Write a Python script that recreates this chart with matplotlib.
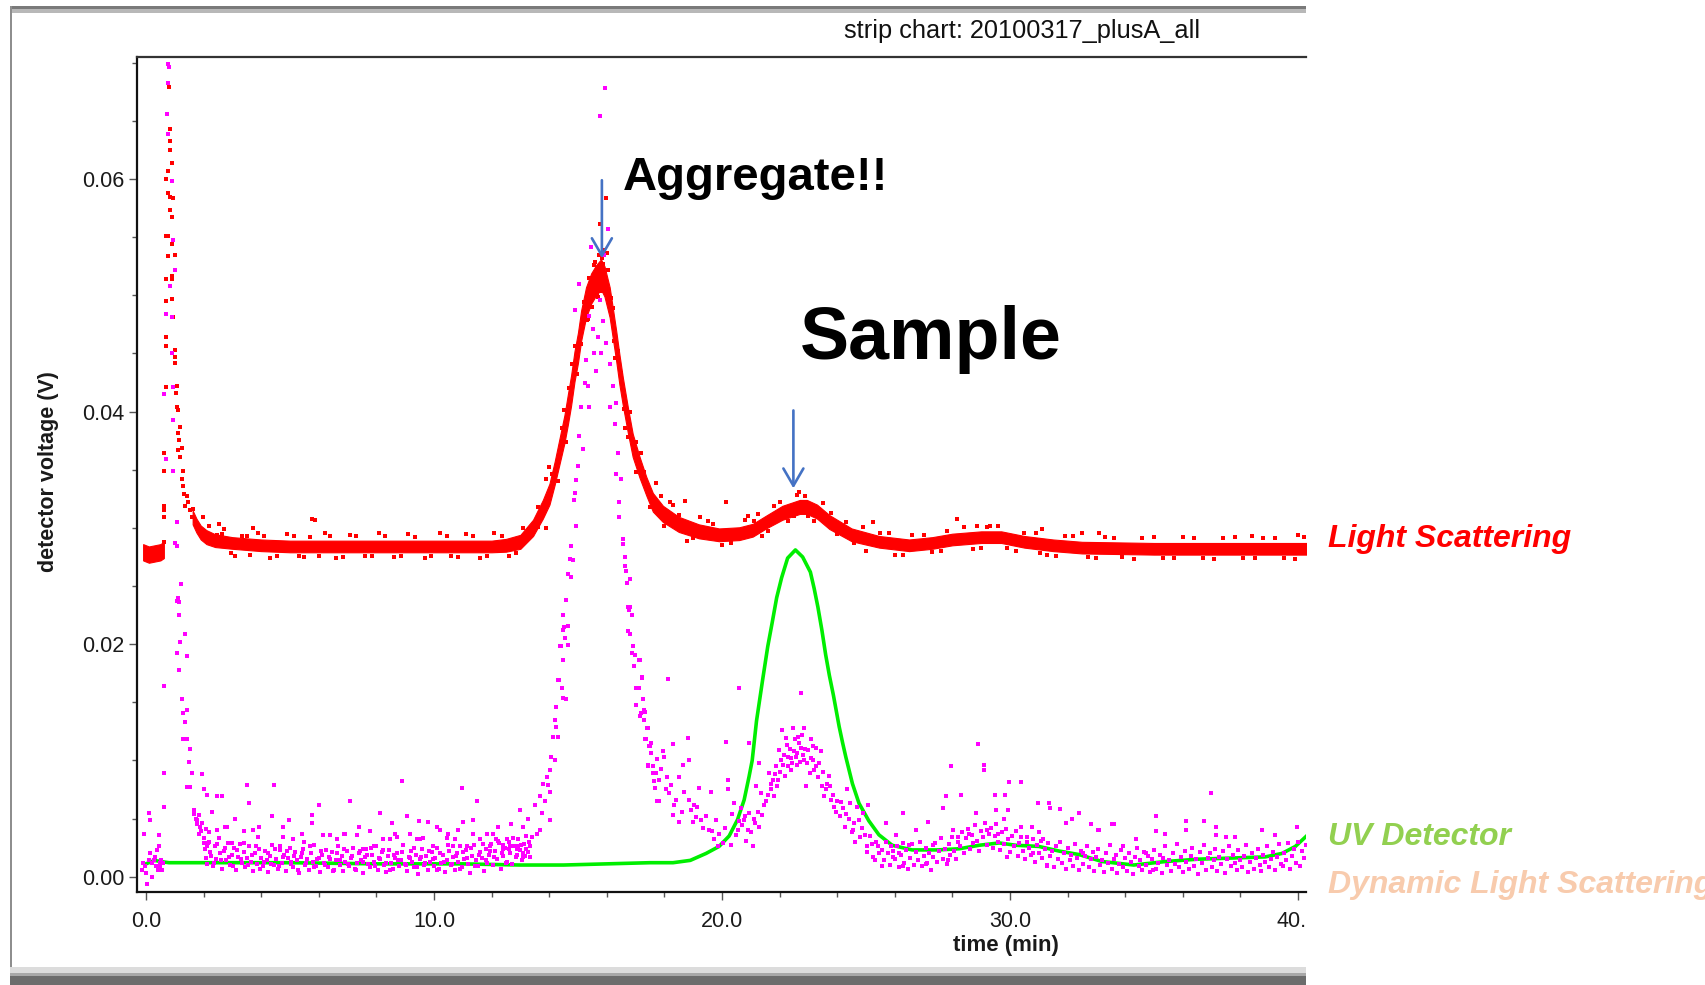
import numpy as np
import matplotlib
matplotlib.use("Agg")
import matplotlib.pyplot as plt
from matplotlib.patches import Rectangle
from matplotlib.ticker import MultipleLocator, FormatStrFormatter

plt.rcParams['font.family'] = ['Liberation Sans', 'DejaVu Sans']

# ---------------------------------------------------------------------------
# Strip chart data (time in minutes, detector voltage in mV)
# ---------------------------------------------------------------------------

# Light scattering: dense trace stored as centre line and half spread
ls_lead_band = [(-0.10, 27.9, 0.7), (0.10, 27.7, 0.7), (0.30, 27.8, 0.7),
                (0.50, 27.9, 0.7), (0.62, 28.1, 0.7)]

ls_main_band = [
    (1.62, 30.9, 0.6), (1.75, 30.2, 0.6), (1.90, 29.6, 0.6), (2.10, 29.2, 0.6),
    (2.40, 28.9, 0.55), (3.00, 28.7, 0.5), (4.00, 28.5, 0.5), (5.00, 28.4, 0.5),
    (6.00, 28.4, 0.5), (7.00, 28.4, 0.5), (8.00, 28.4, 0.5), (9.00, 28.4, 0.5),
    (10.0, 28.4, 0.5), (11.0, 28.4, 0.5), (12.0, 28.4, 0.5), (12.5, 28.5, 0.55),
    (13.0, 28.8, 0.6), (13.44, 30.0, 0.7), (13.78, 31.6, 0.8), (14.01, 32.9, 0.9),
    (14.19, 34.7, 1.0), (14.36, 36.6, 1.1), (14.53, 38.5, 1.2), (14.65, 40.2, 1.3),
    (14.76, 41.8, 1.3), (14.88, 43.9, 1.3), (15.00, 45.5, 1.3), (15.11, 47.4, 1.3),
    (15.28, 49.4, 1.3), (15.46, 50.6, 1.3), (15.63, 51.3, 1.3), (15.80, 51.8, 1.3),
    (15.92, 51.2, 1.3), (16.10, 49.4, 1.3), (16.21, 47.6, 1.3), (16.33, 45.6, 1.3),
    (16.44, 43.6, 1.3), (16.56, 41.7, 1.2), (16.73, 39.3, 1.1), (16.90, 37.1, 1.0),
    (17.14, 35.2, 0.9), (17.37, 33.6, 0.8), (17.60, 32.2, 0.8), (17.95, 31.2, 0.7),
    (18.50, 30.3, 0.65), (19.20, 29.7, 0.6), (19.90, 29.4, 0.55), (20.60, 29.5, 0.55),
    (21.07, 29.8, 0.55), (21.53, 30.5, 0.55), (22.10, 31.3, 0.6), (22.70, 31.8, 0.6),
    (22.95, 31.8, 0.6), (23.30, 31.4, 0.6), (23.73, 30.5, 0.6), (24.50, 29.4, 0.55),
    (25.46, 28.8, 0.5), (26.50, 28.5, 0.5), (27.30, 28.7, 0.5), (28.00, 29.0, 0.5),
    (29.00, 29.2, 0.5), (29.70, 29.2, 0.5), (30.50, 28.8, 0.5), (31.50, 28.5, 0.5),
    (32.50, 28.3, 0.5), (35.00, 28.2, 0.5), (37.80, 28.2, 0.5), (40.30, 28.2, 0.5),
]

# Light scattering: void-volume spike and stray samples
ls_spike = [
    (0.81, 67.9), (0.83, 64.3), (0.83, 63.3), (0.83, 62.5), (0.89, 61.4), (0.75, 60.7),
    (0.69, 60.0), (0.78, 58.8), (0.83, 58.5), (0.95, 58.4), (0.85, 57.3), (0.89, 56.7),
    (0.69, 55.1), (0.75, 55.1), (0.89, 54.4), (0.75, 53.4), (1.01, 53.5), (0.92, 51.7),
    (0.69, 51.4), (0.89, 51.4), (0.69, 49.5), (0.89, 49.7), (0.95, 48.1), (0.69, 46.4),
    (0.69, 45.6), (1.01, 45.3), (1.01, 44.7), (1.01, 44.2), (0.69, 42.1), (1.06, 42.2),
    (1.04, 41.6), (1.09, 40.4), (1.12, 40.1), (1.18, 38.7), (1.10, 38.2), (1.15, 37.6),
    (1.12, 36.7), (1.24, 36.9), (1.18, 36.1), (0.64, 36.4), (0.64, 34.9), (1.27, 34.9),
    (1.24, 34.2), (1.29, 33.6), (1.31, 32.9), (1.41, 32.7), (1.35, 31.9), (1.47, 32.2),
    (1.53, 31.5), (1.64, 31.6), (1.58, 30.9), (1.70, 30.6), (0.64, 31.9), (0.64, 31.5),
    (0.64, 30.9), (0.64, 28.8), (1.99, 30.9), (2.52, 30.3), (2.64, 29.5), (3.49, 29.3),
]

ls_scatter = [
    (2.2, 30.2), (2.7, 29.9), (3.1, 27.6), (3.71, 30.0), (3.9, 29.6), (4.3, 27.4),
    (4.9, 29.5), (5.5, 27.5), (5.77, 30.8), (5.88, 30.7), (6.2, 29.6), (6.6, 27.4),
    (7.1, 29.4), (7.6, 27.6), (8.1, 29.6), (8.6, 27.5), (9.1, 29.5), (9.7, 27.4),
    (10.2, 29.6), (10.6, 27.6), (11.1, 29.5), (11.6, 27.4), (12.1, 29.6), (12.6, 27.6),
    (13.1, 30.0), (13.6, 31.8), (13.9, 30.0), (13.9, 34.2), (13.99, 35.2), (14.1, 34.6),
    (14.3, 34.0), (14.45, 38.6), (14.6, 37.4), (14.8, 44.1), (14.95, 43.2), (15.2, 49.4),
    (15.35, 48.0), (15.55, 52.6), (15.7, 49.9), (15.73, 53.5), (15.75, 56.1), (15.85, 53.2),
    (15.86, 52.7), (15.96, 58.4), (16.0, 50.6), (16.01, 53.6), (16.15, 49.8), (16.3, 44.6),
    (16.5, 43.3), (16.65, 38.6), (16.8, 40.0), (17.0, 34.8), (17.2, 36.4), (17.5, 31.8),
    (17.7, 33.9), (17.89, 32.7), (18.0, 30.2), (18.18, 32.2), (18.3, 32.0), (18.7, 32.3),
    (18.8, 28.9), (19.22, 30.9), (19.5, 30.6), (20.0, 28.5), (20.14, 32.2), (20.8, 30.7),
    (20.9, 31.0), (21.25, 31.2), (21.4, 29.3), (21.8, 31.9), (22.3, 30.6), (22.6, 32.8),
    (22.67, 33.1), (23.0, 31.0), (23.5, 32.1), (24.0, 29.5), (24.3, 30.5), (25.0, 28.0),
    (25.25, 30.5), (25.8, 29.6), (26.3, 27.7), (27.0, 29.4), (27.6, 28.0), (28.17, 30.8),
    (28.4, 30.1), (28.84, 30.2), (29.0, 28.3), (29.3, 30.2), (29.6, 30.2), (30.2, 28.0),
    (30.9, 29.6), (31.03, 27.8), (31.1, 29.9), (31.6, 27.6), (32.2, 29.3), (32.49, 29.6),
    (33.0, 27.4), (33.09, 29.6), (33.6, 29.1), (34.3, 27.3), (35.0, 29.2), (35.7, 27.4),
    (36.4, 29.1), (37.1, 27.3), (37.8, 29.2), (38.4, 29.3), (38.5, 27.4), (39.2, 29.1),
    (39.9, 27.3), (40.0, 29.4),
    (2.45, 29.4), (2.95, 27.8), (3.35, 29.3), (3.6, 27.7), (4.1, 29.3), (4.55, 27.6),
    (5.15, 29.3), (5.3, 27.6), (5.7, 29.2), (6.0, 27.6), (6.4, 29.3), (6.85, 27.5),
    (7.3, 29.3), (7.85, 27.6), (8.3, 29.3), (8.85, 27.6), (9.35, 29.2), (9.9, 27.6),
    (10.45, 29.3), (10.85, 27.5), (11.35, 29.3), (11.85, 27.6), (12.35, 29.3), (12.85, 27.8),
    (25.5, 29.6), (26.0, 27.7), (26.6, 29.4), (27.3, 27.9), (27.8, 29.7), (28.7, 28.2),
    (29.2, 30.1), (29.9, 28.3), (30.5, 29.6), (31.3, 27.7), (31.9, 29.3), (32.7, 27.5),
    (33.3, 29.2), (33.9, 27.5), (34.6, 29.1), (35.3, 27.4), (36.0, 29.2), (36.7, 27.4),
    (37.4, 29.1), (38.1, 27.4), (38.8, 29.1), (39.5, 27.4), (40.2, 29.2),
    (18.5, 31.1), (19.0, 29.1), (19.7, 30.3), (20.3, 28.7), (21.1, 30.6), (21.6, 29.7),
    (22.0, 32.2), (22.5, 31.0), (22.9, 32.7), (23.2, 30.6), (23.8, 31.3), (24.6, 28.7),
    (24.9, 30.1),
    (15.1, 45.8), (15.3, 47.9), (15.4, 51.5), (15.5, 49.0), (15.6, 52.9), (15.65, 50.0),
    (15.8, 50.4), (15.9, 53.9), (16.05, 52.2), (16.2, 48.9), (16.25, 46.1), (16.4, 45.2),
    (14.9, 45.6), (14.7, 42.0), (14.5, 40.1), (14.4, 36.8), (16.6, 40.2), (16.75, 37.8),
    (17.0, 37.4), (17.3, 34.8), (13.6, 30.1), (13.3, 29.9),
]

# UV detector trace
uv_t = [0.0, 0.3, 0.5, 0.8, 2.0, 5.0, 8.0, 11.0, 13.0, 14.5, 16.0, 17.5, 18.3, 18.9,
        19.45, 19.9, 20.25, 20.54, 20.77, 20.94, 21.05, 21.2, 21.41, 21.59, 21.74,
        21.9, 22.07, 22.28, 22.55, 22.8, 23.07, 23.2, 23.33, 23.47, 23.6, 23.73,
        23.87, 24.07, 24.19, 24.3, 24.53, 24.76, 25.1, 25.45, 25.91, 26.6, 27.5,
        28.24, 28.93, 29.63, 30.2, 31.0, 31.71, 32.4, 33.2, 34.3, 35.4, 36.5, 37.7,
        38.87, 39.45, 39.91, 40.3]
uv_mv = [1.1, 1.4, 1.3, 1.2, 1.2, 1.2, 1.1, 1.1, 1.0, 1.0, 1.1, 1.2, 1.2, 1.4,
         2.0, 2.6, 3.5, 4.9, 6.6, 8.6, 10.0, 13.4, 16.9, 19.8, 21.8,
         24.0, 25.7, 27.4, 28.1, 27.5, 26.2, 24.8, 23.2, 21.2, 19.1, 17.3,
         15.6, 12.9, 11.5, 10.3, 8.0, 6.3, 4.8, 3.6, 2.7, 2.3, 2.3,
         2.4, 2.7, 2.9, 2.7, 2.6, 2.2, 1.9, 1.3, 1.0, 1.3, 1.5, 1.6,
         1.7, 2.0, 2.6, 3.5]

# Dynamic light scattering samples
dls_lead = [
    (-0.14, 0.6), (-0.10, 1.2), (-0.08, 3.7), (-0.02, 0.9), (0.01, 0.3), (0.03, -0.6),
    (0.09, 5.5), (0.09, 1.4), (0.15, 4.9), (0.15, 2.0), (0.21, 0.0), (0.21, 1.2),
    (0.27, 1.4), (0.32, 1.7), (0.36, 0.9), (0.38, 2.3), (0.40, 0.6), (0.44, 3.6),
    (0.44, 2.6), (0.47, 1.2), (0.50, 0.9), (0.52, 1.4), (0.55, 0.6), (0.59, 1.2),
    (0.61, 8.9), (0.64, 16.4), (0.64, 6.0),
    (0.75, 69.9), (0.81, 69.6), (0.78, 68.3), (0.72, 65.6), (0.75, 63.9), (0.89, 59.8),
    (0.95, 54.8), (1.01, 52.2), (0.83, 50.8), (0.69, 48.4), (0.92, 48.1), (0.89, 45.0),
    (0.64, 41.5), (0.95, 42.1), (0.95, 39.3), (0.69, 35.9), (0.95, 34.9), (1.06, 30.5),
    (1.01, 28.7), (1.06, 28.4), (1.20, 25.2), (1.10, 24.0), (1.16, 23.6), (1.07, 23.7),
    (1.13, 22.5), (1.36, 20.9), (1.19, 20.2), (1.07, 19.2), (1.42, 19.0), (1.13, 17.8),
    (1.25, 15.3), (1.42, 14.3), (1.30, 14.1), (1.36, 13.3), (1.30, 11.8), (1.42, 11.8),
    (1.54, 11.0), (1.48, 9.9), (1.60, 8.9), (1.42, 7.7), (1.54, 7.7), (1.65, 5.4),
    (1.77, 4.9), (1.88, 4.3), (1.83, 3.7), (2.00, 2.9), (2.12, 2.6), (1.94, 8.8),
    (2.00, 7.5), (2.12, 7.0), (1.65, 5.7), (1.72, 5.0), (1.77, 4.5), (1.83, 5.3),
    (1.90, 3.9), (1.95, 4.6), (2.02, 3.3), (2.08, 4.1), (2.15, 2.9), (2.20, 3.8),
]

dls_baseline = [
    (2.29, 5.6), (2.46, 6.9), (2.64, 6.9), (2.46, 4.0), (2.81, 4.3), (2.99, 2.9),
    (3.10, 5.0), (3.39, 3.9), (3.50, 7.9), (3.56, 6.3), (3.91, 4.3), (4.37, 5.2),
    (4.43, 7.9), (4.77, 4.3), (4.77, 3.4), (4.95, 4.9), (5.41, 3.7), (5.76, 5.3),
    (5.76, 4.6), (5.99, 6.2), (6.39, 3.6), (6.91, 3.7), (7.09, 6.5), (7.38, 4.3),
    (7.78, 3.9), (8.13, 5.5), (8.53, 4.6), (8.65, 3.7), (8.88, 8.2), (9.05, 5.2),
    (9.49, 4.8), (9.51, 3.2), (9.80, 4.7), (10.09, 4.3), (10.50, 3.7), (10.73, 3.2),
    (10.85, 4.0), (10.96, 7.6), (11.02, 4.7), (11.36, 4.9), (11.48, 6.5), (12.06, 3.7),
    (12.23, 4.3), (12.40, 2.4), (12.52, 3.2), (12.69, 4.5), (12.92, 2.6), (12.98, 5.7),
    (13.10, 4.3), (13.10, 1.7), (13.27, 5.0), (13.33, 2.6), (13.39, 3.4),
    (2.75, 4.3), (3.73, 4.0), (3.90, 3.4), (4.66, 2.6), (5.12, 3.2), (5.47, 3.0),
    (6.16, 3.6), (6.63, 3.2), (6.86, 3.7), (7.32, 3.6), (7.55, 2.4), (7.90, 2.6),
    (8.24, 3.2), (8.48, 3.2), (8.71, 3.4), (9.17, 3.7), (9.40, 3.2), (9.63, 3.3),
    (9.98, 2.6), (10.21, 4.0), (10.44, 3.3), (10.67, 2.6), (11.13, 2.6), (11.36, 3.7),
    (11.60, 3.2), (11.83, 3.7), (11.94, 2.6), (12.17, 3.2), (12.40, 2.7), (12.63, 2.6),
    (12.87, 2.4), (13.10, 2.0), (13.21, 2.4), (13.33, 1.7),
    (2.05, 2.4), (2.12, 1.1), (2.18, 3.0), (2.25, 1.8), (2.31, 0.9), (2.38, 2.6),
    (2.44, 1.5), (2.52, 3.3), (2.58, 2.0), (2.65, 0.7), (2.71, 2.2), (2.79, 1.4),
    (2.85, 2.9), (2.92, 1.0), (2.98, 1.9), (3.05, 2.5), (3.12, 0.6), (3.18, 1.7),
    (3.26, 2.8), (3.32, 1.2), (3.39, 2.1), (3.45, 0.8), (3.52, 1.6), (3.59, 2.6),
    (3.65, 1.3), (3.72, 0.5), (3.79, 2.0), (3.85, 1.1), (3.92, 2.4), (3.99, 1.6),
    (4.05, 0.9), (4.12, 2.2), (4.19, 1.4), (4.25, 0.4), (4.32, 1.8), (4.39, 2.7),
    (4.45, 1.0), (4.52, 1.5), (4.59, 0.7), (4.65, 2.3), (4.72, 1.2), (4.79, 1.9),
    (4.85, 0.5), (4.92, 1.6), (4.99, 2.5), (5.05, 1.1), (5.12, 0.8), (5.19, 2.1),
    (5.25, 1.4), (5.32, 0.3), (5.39, 1.7), (5.45, 2.4), (5.52, 1.0), (5.59, 1.5),
    (5.65, 0.6), (5.72, 2.0), (5.79, 1.3), (5.85, 2.7), (5.92, 0.9), (5.99, 1.6),
    (6.05, 0.4), (6.12, 1.9), (6.19, 1.2), (6.25, 2.3), (6.32, 0.8), (6.39, 1.5),
    (6.45, 2.1), (6.52, 0.6), (6.59, 1.4), (6.65, 2.6), (6.72, 1.0), (6.79, 1.8),
    (6.85, 0.5), (6.92, 1.3), (6.99, 2.2), (7.05, 0.9), (7.12, 1.6), (7.19, 2.5),
    (7.25, 0.7), (7.32, 1.2), (7.39, 2.0), (7.45, 1.4), (7.52, 0.3), (7.59, 1.7),
    (7.65, 2.4), (7.72, 1.1), (7.79, 0.8), (7.85, 1.9), (7.92, 1.3), (7.99, 2.6),
    (8.05, 0.6), (8.12, 1.5), (8.19, 2.1), (8.25, 1.0), (8.32, 0.4), (8.39, 1.8),
    (8.45, 2.3), (8.52, 1.2), (8.59, 0.7), (8.65, 1.6), (8.72, 2.0), (8.79, 0.9),
    (8.85, 1.4), (8.92, 2.7), (8.99, 1.1), (9.05, 0.5), (9.12, 1.7), (9.19, 2.2),
    (9.25, 1.3), (9.32, 0.8), (9.39, 1.9), (9.45, 0.2), (9.52, 1.5), (9.59, 2.4),
    (9.65, 1.0), (9.72, 1.8), (9.79, 0.6), (9.85, 1.3), (9.92, 2.1), (9.99, 0.9),
    (10.05, 1.6), (10.12, 2.5), (10.19, 0.7), (10.25, 1.2), (10.32, 1.9), (10.39, 0.4),
    (10.45, 1.4), (10.52, 2.2), (10.59, 1.0), (10.65, 1.7), (10.72, 0.6), (10.79, 2.0),
    (10.85, 1.3), (10.92, 2.6), (10.99, 0.8), (11.05, 1.5), (11.12, 2.3), (11.19, 1.1),
    (11.25, 0.3), (11.32, 1.8), (11.39, 2.7), (11.45, 1.4), (11.52, 0.9), (11.59, 2.1),
    (11.65, 1.6), (11.72, 0.5), (11.79, 2.4), (11.85, 1.2), (11.92, 1.9), (11.99, 2.8),
    (12.05, 1.0), (12.12, 2.2), (12.19, 1.5), (12.25, 2.9), (12.32, 0.7), (12.39, 1.8),
    (12.45, 2.5), (12.52, 1.3), (12.59, 3.0), (12.65, 2.0), (12.72, 1.1), (12.79, 2.6),
    (12.85, 1.7), (12.92, 3.2), (12.99, 2.3), (13.05, 1.4), (13.12, 2.8), (13.19, 3.5),
    (13.25, 2.1),
    (2.08, 1.6), (2.22, 2.1), (2.35, 1.2), (2.48, 2.8), (2.62, 1.4), (2.75, 2.5),
    (2.88, 1.7), (3.02, 0.9), (3.15, 2.3), (3.29, 1.5), (3.42, 2.9), (3.55, 1.0),
    (3.69, 1.9), (3.82, 2.6), (3.96, 0.7), (4.09, 1.3), (4.22, 2.0), (4.35, 1.1),
    (4.49, 2.4), (4.62, 0.9), (4.75, 1.7), (4.89, 2.2), (5.02, 1.3), (5.15, 1.8),
    (5.29, 0.6), (5.42, 2.0), (5.55, 1.2), (5.69, 2.6), (5.82, 0.8), (5.95, 1.5),
    (6.09, 2.2), (6.22, 1.0), (6.35, 1.7), (6.49, 0.5), (6.62, 2.0), (6.75, 1.4),
    (6.89, 2.4), (7.02, 1.1), (7.15, 1.8), (7.29, 0.6), (7.42, 2.2), (7.55, 1.3),
    (7.69, 1.9), (7.82, 2.5), (7.95, 0.9), (8.09, 1.6), (8.22, 2.3), (8.35, 1.2),
    (8.49, 0.6), (8.62, 1.9), (8.75, 1.4), (8.89, 2.1), (9.02, 1.0), (9.15, 1.6),
    (9.29, 2.5), (9.42, 0.8), (9.55, 1.7), (9.69, 1.2), (9.82, 2.2), (9.95, 1.5),
    (10.09, 0.6), (10.22, 2.0), (10.35, 1.3), (10.49, 2.7), (10.62, 1.1), (10.75, 1.8),
    (10.89, 0.7), (11.02, 2.1), (11.15, 1.6), (11.29, 2.5), (11.42, 0.9), (11.55, 1.9),
    (11.69, 2.8), (11.82, 1.4), (11.95, 2.2), (12.09, 1.7), (12.22, 3.1), (12.35, 2.0),
    (12.49, 1.2), (12.62, 2.4), (12.75, 3.3), (12.89, 1.9), (13.02, 2.7), (13.15, 1.8),
    (13.29, 3.0),
]

dls_aggregate = [
    (13.50, 6.2), (13.56, 3.7), (13.68, 4.0), (13.68, 6.9), (13.74, 5.5), (13.79, 8.0),
    (13.85, 6.5), (13.91, 8.6), (13.97, 7.9), (14.02, 9.2), (14.02, 7.3), (14.02, 4.9),
    (14.08, 10.3), (14.14, 12.0), (14.20, 10.0), (14.20, 13.5), (14.25, 14.6), (14.25, 12.9),
    (14.31, 16.9), (14.31, 12.0), (14.37, 19.8), (14.43, 16.2), (14.49, 22.5), (14.49, 21.2),
    (14.49, 18.6), (14.55, 20.5), (14.60, 23.8), (14.60, 15.3), (14.66, 21.6), (14.66, 19.9),
    (14.42, 19.8), (14.51, 21.5), (14.48, 15.4), (14.35, 16.9), (14.75, 25.8), (14.81, 27.2),
    (14.87, 32.4), (14.93, 34.1), (14.65, 26.0), (14.71, 27.3), (14.76, 28.4), (14.94, 30.2),
    (14.88, 33.0), (15.00, 35.3), (15.17, 36.8), (15.05, 37.9), (15.11, 40.4), (15.23, 42.5),
    (15.57, 45.0), (15.69, 46.4), (14.91, 48.7), (15.05, 51.0), (15.46, 54.2), (15.75, 65.4),
    (15.95, 67.8), (16.04, 55.7), (15.90, 53.5), (15.75, 49.6), (15.86, 47.8), (15.98, 45.9),
    (15.63, 43.5), (15.40, 40.4), (15.34, 42.2), (16.10, 40.4), (15.52, 47.1), (15.80, 45.0),
    (15.28, 44.4), (15.40, 48.2),
    (16.10, 44.1), (16.21, 42.2), (16.33, 40.7), (16.27, 38.9), (16.39, 36.4), (16.33, 34.6),
    (16.50, 34.2), (16.44, 32.2), (16.44, 30.9), (16.56, 29.0), (16.56, 28.6), (16.62, 27.5),
    (16.62, 26.7), (16.67, 26.3), (16.69, 25.3), (16.79, 25.6), (16.73, 23.2), (16.76, 22.9),
    (16.82, 20.9), (16.89, 19.2), (16.96, 18.1), (17.08, 16.2), (16.80, 23.2), (16.86, 22.5),
    (16.74, 21.1), (16.92, 19.8), (16.97, 19.1), (17.15, 18.6), (17.21, 17.2), (17.03, 16.2),
    (17.26, 15.3), (17.03, 14.8), (17.32, 14.2), (17.15, 13.8), (17.38, 12.8), (17.32, 11.8),
    (17.49, 11.2), (17.44, 9.5), (17.61, 8.9), (17.67, 7.6), (17.73, 6.5),
]

dls_sample = [
    (17.13, 18.6), (17.22, 17.1), (17.13, 16.2), (17.25, 15.3), (17.30, 14.3), (17.19, 14.1),
    (17.30, 13.5), (17.42, 12.8), (17.36, 11.8), (17.53, 11.5), (17.47, 11.2), (17.42, 9.6),
    (17.59, 9.5), (17.71, 8.9), (17.94, 10.8), (18.00, 10.3), (17.65, 8.2), (17.82, 8.3),
    (18.11, 17.0), (18.29, 11.4), (18.81, 11.9), (18.87, 10.0), (18.64, 9.6), (18.52, 8.6),
    (18.23, 7.9), (18.05, 7.5), (17.82, 6.5), (18.17, 7.2), (18.40, 6.6), (18.69, 7.3),
    (18.92, 5.7), (19.15, 6.0), (19.21, 7.6), (19.27, 4.9), (19.61, 7.3), (18.29, 5.3),
    (18.52, 4.7), (18.98, 4.7), (19.04, 6.2), (19.45, 5.2), (19.56, 4.0), (19.79, 4.9),
    (19.91, 3.7), (19.74, 3.2), (20.02, 2.9), (20.31, 2.7), (20.14, 11.6), (20.20, 8.3),
    (20.20, 7.5), (20.60, 16.2), (20.95, 11.5), (20.66, 5.9), (20.43, 6.3), (20.54, 4.0),
    (20.77, 4.9), (20.89, 4.0), (21.07, 2.6), (20.95, 5.5), (21.18, 7.8), (21.12, 5.0),
    (21.30, 4.3), (21.30, 9.8), (21.36, 7.2), (21.53, 6.5), (21.64, 8.9), (21.70, 7.5),
    (21.82, 6.9), (21.76, 8.3), (21.88, 9.5), (21.99, 10.9), (22.10, 12.6), (22.22, 11.9),
    (22.28, 9.5), (22.28, 10.3), (22.40, 9.2), (22.45, 12.8), (22.42, 9.8), (22.57, 10.3),
    (22.69, 11.5), (22.74, 11.1), (22.74, 15.8), (22.84, 12.8), (22.86, 10.0), (22.92, 7.8),
    (23.10, 11.8), (23.16, 11.2), (23.26, 11.1), (23.16, 10.0), (23.26, 9.5), (23.32, 8.6),
    (23.43, 10.8), (23.49, 7.8), (23.66, 8.0), (23.55, 6.9), (23.78, 6.6), (23.90, 6.0),
    (24.10, 5.2), (24.33, 7.5), (24.45, 6.3), (24.27, 4.3), (24.56, 4.0), (24.68, 6.0),
    (24.91, 5.5), (25.08, 6.2), (24.79, 3.4), (25.02, 2.6), (25.25, 1.7), (25.42, 2.6),
    (25.71, 4.6), (25.54, 0.9),
    (22.00, 9.0), (22.15, 10.5), (22.35, 11.0), (22.50, 10.8), (22.60, 9.6), (22.65, 12.0),
    (22.80, 10.5), (22.95, 9.8), (23.00, 10.9), (23.05, 8.9), (22.20, 8.7), (21.90, 7.8),
    (21.60, 7.0), (21.45, 6.2), (21.25, 5.6), (23.60, 7.5), (23.70, 8.7), (23.85, 7.0),
    (24.00, 6.5), (24.20, 5.9), (24.40, 5.0), (24.60, 4.6), (24.85, 4.2), (25.15, 3.5),
    (25.35, 3.0), (20.35, 5.4), (20.48, 3.6), (20.70, 4.4), (20.85, 3.1), (21.00, 3.8),
    (20.10, 4.2), (19.85, 2.6), (19.65, 3.9), (19.35, 4.2), (19.10, 5.1), (18.85, 6.6),
    (18.60, 5.6), (18.35, 6.2), (18.10, 8.6), (17.90, 9.3), (17.75, 10.1), (17.55, 10.6),
    (24.50, 3.8), (24.62, 3.0), (24.75, 4.9), (24.95, 3.6), (25.05, 2.1), (25.20, 2.8),
    (25.30, 1.4), (25.45, 2.0),
    (22.05, 10.0), (22.25, 11.3), (22.38, 10.2), (22.55, 11.8), (22.62, 10.6), (22.72, 9.9),
    (22.78, 12.2), (22.9, 11.0), (23.08, 10.2), (23.2, 9.2), (23.38, 9.8), (23.52, 9.0),
    (21.7, 8.0), (21.85, 8.8), (21.95, 8.3), (22.12, 9.6), (20.6, 4.8), (20.8, 5.2),
    (21.15, 4.6), (21.4, 5.3), (23.75, 7.8), (23.95, 5.6), (24.15, 6.4), (24.3, 5.4),
]

dls_tail = [
    (25.55, 2.3), (25.62, 1.4), (25.68, 3.0), (25.75, 2.0), (25.82, 1.0), (25.88, 2.6),
    (25.95, 1.7), (25.94, 2.2), (26.05, 3.6), (26.28, 5.5), (26.16, 2.0), (26.28, 0.9),
    (26.51, 2.7), (26.74, 4.0), (27.09, 1.1), (27.14, 4.7), (27.32, 2.7), (27.67, 5.9),
    (27.78, 6.9), (27.95, 9.5), (28.01, 4.0), (27.84, 1.4), (28.18, 3.4), (28.30, 7.0),
    (28.59, 3.7), (28.82, 5.5), (28.88, 11.4), (29.10, 9.6), (29.10, 9.2), (29.22, 4.0),
    (29.48, 7.0), (29.53, 5.7), (29.60, 3.7), (29.80, 5.0), (29.97, 8.1), (29.91, 1.7),
    (30.14, 2.6), (30.37, 4.3), (30.80, 2.0), (30.98, 6.3), (31.15, 3.2), (31.27, 0.9),
    (31.38, 5.9), (31.96, 4.6), (32.40, 5.5), (32.52, 2.0), (32.81, 4.5), (33.10, 4.0),
    (33.33, 2.0), (33.56, 4.5), (33.91, 2.6), (34.37, 3.2), (34.72, 2.0), (35.06, 5.2),
    (34.95, 0.6), (30.37, 8.1), (29.83, 7.0), (29.94, 5.7), (31.36, 6.3), (31.73, 5.8),
    (32.14, 5.0), (32.83, 4.5), (33.07, 4.0), (33.61, 4.5), (35.08, 3.9), (35.38, 3.7),
    (36.12, 4.8), (36.12, 4.0), (36.73, 4.8), (36.97, 7.2), (37.16, 4.3), (37.16, 3.6),
    (37.50, 3.4), (37.83, 3.4), (38.75, 4.0), (39.19, 3.6), (39.96, 4.3), (30.78, 4.3),
    (31.00, 3.8), (30.60, 3.4),
    (26.00, 1.5), (26.07, 2.6), (26.13, 0.8), (26.20, 1.9), (26.27, 2.9), (26.33, 1.2),
    (26.40, 2.3), (26.47, 0.7), (26.53, 1.6), (26.60, 2.8), (26.67, 1.0), (26.73, 2.1),
    (26.80, 1.4), (26.87, 3.0), (26.93, 0.9), (27.00, 1.8), (27.07, 2.5), (27.13, 1.2),
    (27.20, 2.0), (27.27, 0.6), (27.33, 1.7), (27.40, 2.9), (27.47, 1.3), (27.53, 2.2),
    (27.60, 3.3), (27.67, 1.5), (27.73, 2.4), (27.80, 1.1), (27.87, 2.8), (27.93, 1.9),
    (28.00, 3.4), (28.07, 2.2), (28.13, 1.5), (28.20, 3.0), (28.27, 2.6), (28.33, 3.8),
    (28.40, 2.0), (28.47, 3.3), (28.53, 4.1), (28.60, 2.4), (28.67, 3.6), (28.73, 2.9),
    (28.80, 4.4), (28.87, 3.1), (28.93, 2.2), (29.00, 3.9), (29.07, 3.4), (29.13, 4.6),
    (29.20, 2.7), (29.27, 3.7), (29.33, 4.2), (29.40, 2.5), (29.47, 3.5), (29.53, 4.5),
    (29.60, 3.0), (29.67, 2.3), (29.73, 3.8), (29.80, 2.8), (29.87, 4.1), (29.93, 3.2),
    (30.00, 2.1), (30.07, 3.5), (30.13, 2.6), (30.20, 3.9), (30.27, 1.8), (30.33, 2.9),
    (30.40, 3.4), (30.47, 2.2), (30.53, 1.5), (30.60, 3.0), (30.67, 2.5), (30.73, 1.9),
    (30.80, 3.2), (30.87, 1.3), (30.93, 2.7), (31.00, 2.0), (31.07, 3.1), (31.13, 1.6),
    (31.20, 2.4), (31.27, 1.0), (31.33, 2.9), (31.40, 1.8), (31.47, 2.2), (31.53, 0.8),
    (31.60, 2.6), (31.67, 1.5), (31.73, 3.0), (31.80, 1.2), (31.87, 2.0), (31.93, 0.7),
    (32.00, 2.5), (32.07, 1.4), (32.13, 1.9), (32.20, 0.9), (32.27, 2.8), (32.33, 1.6),
    (32.40, 0.6), (32.47, 2.2), (32.53, 1.1), (32.60, 1.8), (32.67, 2.6), (32.73, 0.8),
    (32.80, 1.5), (32.87, 2.1), (32.93, 0.5), (33.00, 1.7), (33.07, 2.4), (33.13, 1.0),
    (33.20, 1.4), (33.27, 0.4), (33.33, 2.0), (33.40, 1.2), (33.47, 2.7), (33.53, 0.7),
    (33.60, 1.5), (33.67, 1.9), (33.73, 0.3), (33.80, 1.1), (33.87, 2.3), (33.93, 0.8),
    (34.00, 1.6), (34.07, 0.5), (34.13, 2.0), (34.20, 1.3), (34.27, 0.2), (34.33, 1.7),
    (34.40, 2.5), (34.47, 0.9), (34.53, 1.4), (34.60, 0.6), (34.67, 2.1), (34.73, 1.0),
    (34.80, 1.8), (34.87, 0.4), (34.93, 1.5), (35.00, 2.3), (35.07, 0.7), (35.13, 1.2),
    (35.20, 1.9), (35.27, 0.3), (35.33, 1.6), (35.40, 2.6), (35.47, 1.0), (35.53, 1.4),
    (35.60, 0.5), (35.67, 2.0), (35.73, 1.1), (35.80, 2.8), (35.87, 0.8), (35.93, 1.7),
    (36.00, 0.4), (36.07, 2.2), (36.13, 1.3), (36.20, 0.7), (36.27, 1.8), (36.33, 2.5),
    (36.40, 0.9), (36.47, 1.5), (36.53, 0.2), (36.60, 2.1), (36.67, 1.2), (36.73, 2.7),
    (36.80, 0.6), (36.87, 1.6), (36.93, 2.0), (37.00, 0.8), (37.07, 1.4), (37.13, 2.4),
    (37.20, 0.5), (37.27, 1.7), (37.33, 1.1), (37.40, 2.2), (37.47, 0.3), (37.53, 1.5),
    (37.60, 2.6), (37.67, 0.9), (37.73, 1.9), (37.80, 1.2), (37.87, 0.6), (37.93, 2.3),
    (38.00, 1.4), (38.07, 0.8), (38.13, 1.8), (38.20, 2.7), (38.27, 0.4), (38.33, 1.3),
    (38.40, 2.0), (38.47, 0.7), (38.53, 1.6), (38.60, 2.4), (38.67, 1.0), (38.73, 0.5),
    (38.80, 1.9), (38.87, 1.3), (38.93, 2.6), (39.00, 0.8), (39.07, 1.5), (39.13, 2.1),
    (39.20, 0.6), (39.27, 1.7), (39.33, 2.8), (39.40, 1.1), (39.47, 0.9), (39.53, 2.0),
    (39.60, 1.4), (39.67, 2.9), (39.73, 0.7), (39.80, 1.8), (39.87, 2.4), (39.93, 1.2),
    (40.00, 3.0), (40.07, 0.9), (40.13, 2.2), (40.20, 1.6), (40.27, 2.7),
]

# Peak call-outs: time, arrow tail and arrow tip (mV)
callout_labels = ["Aggregate!!", "Sample"]
callout_t = [15.83, 22.48]
callout_tail = [59.9, 40.1]
callout_tip = [53.2, 33.4]

x_ticks = [0, 10, 20, 30, 40]
y_ticks = [0.0, 0.02, 0.04, 0.06]

# ---------------------------------------------------------------------------
W, H = 1706, 985
fig = plt.figure(figsize=(W / 100, H / 100), dpi=100)
fig.patch.set_facecolor('white')


def fx(px):
    return px / W


def fy(py):
    return 1 - py / H


ax = fig.add_axes([fx(137), fy(892), fx(1306) - fx(137), fy(57) - fy(892)])
ax.set_xlim(-0.3125, 40.28)
ax.set_ylim(-0.00132, 0.0705)

RED = '#ff0000'
MAG = '#ff00ff'
GRN = '#00ee00'


def mv(vals):
    return np.asarray(vals, dtype=float) / 1000.0


# light scattering band
for band in (ls_lead_band, ls_main_band):
    t, mid, half = np.array(band).T
    ax.fill_between(t, mv(mid - half), mv(mid + half), color=RED, lw=0.8,
                    edgecolor=RED, zorder=2)
for pts in (ls_spike, ls_scatter):
    t, v = np.array(pts).T
    ax.plot(t, mv(v), 's', color=RED, ms=3.0, mew=0, zorder=2)

# UV detector
ax.plot(uv_t, mv(uv_mv), '-', color=GRN, lw=2.6, zorder=3, solid_joinstyle='round')

# dynamic light scattering
for pts in (dls_lead, dls_baseline, dls_aggregate, dls_sample, dls_tail):
    t, v = np.array(pts).T
    ax.plot(t, mv(v), 's', color=MAG, ms=2.9, mew=0, zorder=4)

# call-outs
for lab, t, tail, tip in zip(callout_labels, callout_t, callout_tail, callout_tip):
    ax.annotate('', xy=(t, tip / 1000), xytext=(t, tail / 1000),
                arrowprops=dict(arrowstyle='->,head_length=0.62,head_width=0.36',
                                color='#4472c4', lw=1.9, shrinkA=0, shrinkB=0,
                                mutation_scale=20), zorder=6)
ax.text(16.56, 0.0591, callout_labels[0], fontsize=34, fontweight='bold',
        ha='left', va='baseline', color='black', zorder=7)
ax.text(22.71, 0.0445, callout_labels[1], fontsize=53, fontweight='bold',
        ha='left', va='baseline', color='black', zorder=7)

# axes styling
ax.spines['right'].set_visible(False)
ax.spines['left'].set_color('#111111')
ax.spines['bottom'].set_color('#111111')
ax.spines['top'].set_color('#333333')
for s in ('left', 'bottom', 'top'):
    ax.spines[s].set_linewidth(1.6)

ax.xaxis.set_major_locator(plt.FixedLocator(x_ticks))
ax.xaxis.set_minor_locator(MultipleLocator(2))
ax.yaxis.set_major_locator(plt.FixedLocator(y_ticks))
ax.yaxis.set_minor_locator(MultipleLocator(0.005))
ax.xaxis.set_major_formatter(FormatStrFormatter('%.1f'))
ax.yaxis.set_major_formatter(FormatStrFormatter('%.2f'))
ax.tick_params(which='major', direction='out', length=6, width=1.0, color='#555555',
               labelsize=15.5, labelcolor='#1a1a1a')
ax.tick_params(which='minor', direction='out', length=3.5, width=1.0, color='#555555')
ax.tick_params(axis='x', which='major', pad=8)
ax.tick_params(axis='y', which='major', pad=3)
ax.tick_params(top=False, right=False, which='both')

fig.text(fx(49), fy(472), 'detector voltage (V)', rotation=90, ha='center',
         va='center', fontsize=15.5, fontweight='bold', color='#1a1a1a')
fig.text(fx(1006), fy(945), 'time (min)', ha='center', va='center',
         fontsize=16, fontweight='bold', color='#1a1a1a')
fig.text(fx(844), fy(38.3), 'strip chart: 20100317_plusA_all', ha='left',
         va='baseline', fontsize=18.3, color='#111111')

# window frame around the chart
frame = [
    ((10, 6), 1296, 3, '#7a7a7a'),
    ((10, 9), 1296, 4, '#b8b8b8'),
    ((10, 6), 2.5, 962, '#8e8e8e'),
    ((10, 967), 1296, 6, '#dcdcdc'),
    ((10, 973), 1296, 3, '#a8a8a8'),
    ((10, 976), 1296, 9, '#6c6c6c'),
]
for (x0, y0), w, h, c in frame:
    fig.add_artist(Rectangle((fx(x0), fy(y0 + h)), w / W, h / H,
                             transform=fig.transFigure, color=c, lw=0, zorder=20))

# the chart window is cut at its right edge
fig.add_artist(Rectangle((fx(1306.5), fy(940)), (W - 1306.5) / W, 36 / H,
                         transform=fig.transFigure, color='white', lw=0, zorder=20))

# series names
fig.text(fx(1328), fy(546.7), 'Light Scattering', fontsize=23, fontweight='bold',
         fontstyle='italic', color='#ff0000', ha='left', va='baseline')
fig.text(fx(1328), fy(845), 'UV Detector', fontsize=23, fontweight='bold',
         fontstyle='italic', color='#92d050', ha='left', va='baseline')
fig.text(fx(1328), fy(892.7), 'Dynamic Light Scattering', fontsize=23, fontweight='bold',
         fontstyle='italic', color='#f8cbad', ha='left', va='baseline')

fig.savefig('out.png', dpi=100, facecolor='white')
